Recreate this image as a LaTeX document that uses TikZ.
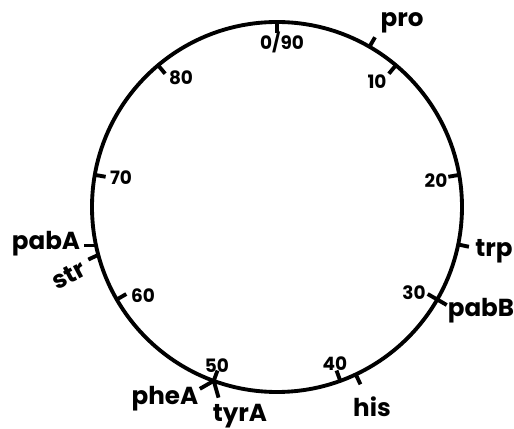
\documentclass[tikz,border=0pt]{standalone}
\usepackage{fontspec}
\setmainfont{Poppins}

\begin{document}
\begin{tikzpicture}[
  line width=2.2pt,
  num/.style={font=\bfseries\fontsize{10.5}{10.5}\selectfont, inner sep=0pt},
  gene/.style={font=\bfseries\fontsize{14}{14}\selectfont, inner sep=0pt, anchor=base}]
\useasboundingbox (-5.54,-4.44) rectangle (4.74,4.14);
\coordinate (c) at (0,0);
\draw (c) circle (3.7);
% minute ticks (inside)
\foreach \m in {0,10,...,80} \draw ({90-4*\m}:3.7) -- ({90-4*\m}:3.48);
\node[num] (n0) at (0.1,3.3) {0/90};
\node[num] (n10) at (2.0,2.5) {10};
\node[num] (n20) at (3.18,0.52) {20};
\node[num] (n30) at (2.74,-1.72) {30};
\node[num] (n40) at (1.16,-3.14) {40};
\node[num] (n50) at (-1.2,-3.18) {50};
\node[num] (n60) at (-2.68,-1.78) {60};
\node[num] (n70) at (-3.12,0.58) {70};
\node[num] (n80) at (-1.92,2.58) {80};
% gene ticks (outside)
\foreach \a in {60,-11.7,-30,-64.8} \draw (\a:3.7) -- (\a:3.92);
\draw (192:3.7) -- ++(180:0.25);
\draw (195:3.7) -- ++(205:0.22);
\draw (-110:3.7) -- ++(-150:0.32);
\draw (-110:3.7) -- ++(-74:0.35);
\node[gene] (pro) at (2.5,3.6) {pro};
\node[gene] (trp) at (4.34,-1.0) {trp};
\node[gene] (pabB) at (4.08,-2.2) {pabB};
\node[gene] (his) at (1.9,-4.2) {his};
\node[gene] (tyrA) at (-0.74,-4.3) {tyrA};
\node[gene] (pheA) at (-2.24,-3.96) {pheA};
\node[gene] (pabA) at (-4.62,-0.86) {pabA};
\node[gene, anchor=center, rotate=28] (str) at (-4.17,-1.36) {str};
\end{tikzpicture}
\end{document}
